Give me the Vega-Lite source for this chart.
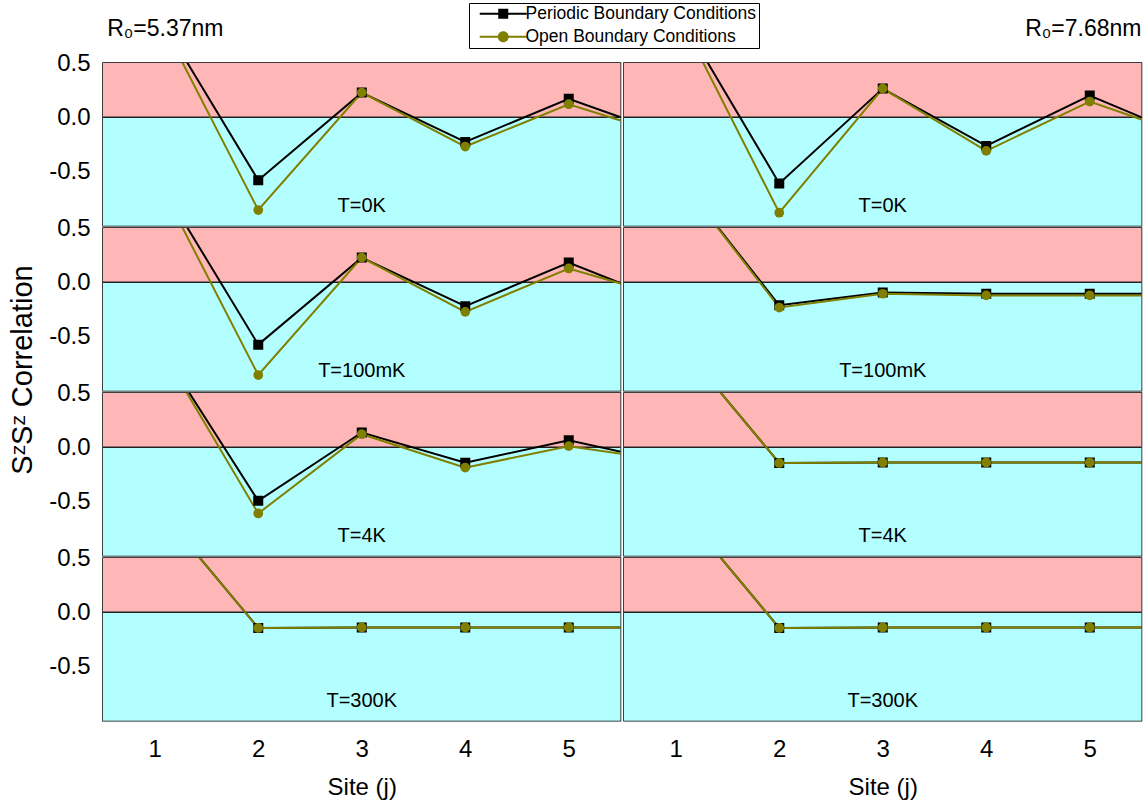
{
  "$schema": "https://vega.github.io/schema/vega-lite/v6.json",
  "background": "white",
  "padding": {"left": 8, "top": 2, "right": 5, "bottom": 5},
  "config": {
    "font": "Liberation Sans",
    "view": {"stroke": "#000000", "strokeWidth": 1.5},
    "axis": {"grid": false, "domain": false, "ticks": false, "labelFont": "Liberation Sans", "labelFontSize": 24, "labelColor": "#000000", "titleFont": "Liberation Sans", "titleFontSize": 24, "titleFontWeight": "normal", "titleColor": "#000000", "labelFlush": false}
  },
  "data": {"values": [
    {"R": "R₀=5.37nm", "T": "T=0K", "bc": "Periodic Boundary Conditions", "site": 1, "v": 1.0},
    {"R": "R₀=5.37nm", "T": "T=0K", "bc": "Periodic Boundary Conditions", "site": 2, "v": -0.58},
    {"R": "R₀=5.37nm", "T": "T=0K", "bc": "Periodic Boundary Conditions", "site": 3, "v": 0.227},
    {"R": "R₀=5.37nm", "T": "T=0K", "bc": "Periodic Boundary Conditions", "site": 4, "v": -0.227},
    {"R": "R₀=5.37nm", "T": "T=0K", "bc": "Periodic Boundary Conditions", "site": 5, "v": 0.17},
    {"R": "R₀=5.37nm", "T": "T=0K", "bc": "Periodic Boundary Conditions", "site": 6, "v": -0.17},
    {"R": "R₀=5.37nm", "T": "T=100mK", "bc": "Periodic Boundary Conditions", "site": 1, "v": 1.0},
    {"R": "R₀=5.37nm", "T": "T=100mK", "bc": "Periodic Boundary Conditions", "site": 2, "v": -0.575},
    {"R": "R₀=5.37nm", "T": "T=100mK", "bc": "Periodic Boundary Conditions", "site": 3, "v": 0.227},
    {"R": "R₀=5.37nm", "T": "T=100mK", "bc": "Periodic Boundary Conditions", "site": 4, "v": -0.221},
    {"R": "R₀=5.37nm", "T": "T=100mK", "bc": "Periodic Boundary Conditions", "site": 5, "v": 0.182},
    {"R": "R₀=5.37nm", "T": "T=100mK", "bc": "Periodic Boundary Conditions", "site": 6, "v": -0.2},
    {"R": "R₀=5.37nm", "T": "T=4K", "bc": "Periodic Boundary Conditions", "site": 1, "v": 1.0},
    {"R": "R₀=5.37nm", "T": "T=4K", "bc": "Periodic Boundary Conditions", "site": 2, "v": -0.494},
    {"R": "R₀=5.37nm", "T": "T=4K", "bc": "Periodic Boundary Conditions", "site": 3, "v": 0.136},
    {"R": "R₀=5.37nm", "T": "T=4K", "bc": "Periodic Boundary Conditions", "site": 4, "v": -0.142},
    {"R": "R₀=5.37nm", "T": "T=4K", "bc": "Periodic Boundary Conditions", "site": 5, "v": 0.064},
    {"R": "R₀=5.37nm", "T": "T=4K", "bc": "Periodic Boundary Conditions", "site": 6, "v": -0.144},
    {"R": "R₀=5.37nm", "T": "T=300K", "bc": "Periodic Boundary Conditions", "site": 1, "v": 1.0},
    {"R": "R₀=5.37nm", "T": "T=300K", "bc": "Periodic Boundary Conditions", "site": 2, "v": -0.145},
    {"R": "R₀=5.37nm", "T": "T=300K", "bc": "Periodic Boundary Conditions", "site": 3, "v": -0.14},
    {"R": "R₀=5.37nm", "T": "T=300K", "bc": "Periodic Boundary Conditions", "site": 4, "v": -0.14},
    {"R": "R₀=5.37nm", "T": "T=300K", "bc": "Periodic Boundary Conditions", "site": 5, "v": -0.14},
    {"R": "R₀=5.37nm", "T": "T=300K", "bc": "Periodic Boundary Conditions", "site": 6, "v": -0.14},
    {"R": "R₀=7.68nm", "T": "T=0K", "bc": "Periodic Boundary Conditions", "site": 1, "v": 1.0},
    {"R": "R₀=7.68nm", "T": "T=0K", "bc": "Periodic Boundary Conditions", "site": 2, "v": -0.61},
    {"R": "R₀=7.68nm", "T": "T=0K", "bc": "Periodic Boundary Conditions", "site": 3, "v": 0.264},
    {"R": "R₀=7.68nm", "T": "T=0K", "bc": "Periodic Boundary Conditions", "site": 4, "v": -0.264},
    {"R": "R₀=7.68nm", "T": "T=0K", "bc": "Periodic Boundary Conditions", "site": 5, "v": 0.2},
    {"R": "R₀=7.68nm", "T": "T=0K", "bc": "Periodic Boundary Conditions", "site": 6, "v": -0.2},
    {"R": "R₀=7.68nm", "T": "T=100mK", "bc": "Periodic Boundary Conditions", "site": 1, "v": 1.0},
    {"R": "R₀=7.68nm", "T": "T=100mK", "bc": "Periodic Boundary Conditions", "site": 2, "v": -0.212},
    {"R": "R₀=7.68nm", "T": "T=100mK", "bc": "Periodic Boundary Conditions", "site": 3, "v": -0.095},
    {"R": "R₀=7.68nm", "T": "T=100mK", "bc": "Periodic Boundary Conditions", "site": 4, "v": -0.105},
    {"R": "R₀=7.68nm", "T": "T=100mK", "bc": "Periodic Boundary Conditions", "site": 5, "v": -0.105},
    {"R": "R₀=7.68nm", "T": "T=100mK", "bc": "Periodic Boundary Conditions", "site": 6, "v": -0.105},
    {"R": "R₀=7.68nm", "T": "T=4K", "bc": "Periodic Boundary Conditions", "site": 1, "v": 1.0},
    {"R": "R₀=7.68nm", "T": "T=4K", "bc": "Periodic Boundary Conditions", "site": 2, "v": -0.145},
    {"R": "R₀=7.68nm", "T": "T=4K", "bc": "Periodic Boundary Conditions", "site": 3, "v": -0.14},
    {"R": "R₀=7.68nm", "T": "T=4K", "bc": "Periodic Boundary Conditions", "site": 4, "v": -0.14},
    {"R": "R₀=7.68nm", "T": "T=4K", "bc": "Periodic Boundary Conditions", "site": 5, "v": -0.14},
    {"R": "R₀=7.68nm", "T": "T=4K", "bc": "Periodic Boundary Conditions", "site": 6, "v": -0.14},
    {"R": "R₀=7.68nm", "T": "T=300K", "bc": "Periodic Boundary Conditions", "site": 1, "v": 1.0},
    {"R": "R₀=7.68nm", "T": "T=300K", "bc": "Periodic Boundary Conditions", "site": 2, "v": -0.145},
    {"R": "R₀=7.68nm", "T": "T=300K", "bc": "Periodic Boundary Conditions", "site": 3, "v": -0.14},
    {"R": "R₀=7.68nm", "T": "T=300K", "bc": "Periodic Boundary Conditions", "site": 4, "v": -0.14},
    {"R": "R₀=7.68nm", "T": "T=300K", "bc": "Periodic Boundary Conditions", "site": 5, "v": -0.14},
    {"R": "R₀=7.68nm", "T": "T=300K", "bc": "Periodic Boundary Conditions", "site": 6, "v": -0.14},
    {"R": "R₀=5.37nm", "T": "T=0K", "bc": "Open Boundary Conditions", "site": 1, "v": 1.0},
    {"R": "R₀=5.37nm", "T": "T=0K", "bc": "Open Boundary Conditions", "site": 2, "v": -0.855},
    {"R": "R₀=5.37nm", "T": "T=0K", "bc": "Open Boundary Conditions", "site": 3, "v": 0.227},
    {"R": "R₀=5.37nm", "T": "T=0K", "bc": "Open Boundary Conditions", "site": 4, "v": -0.27},
    {"R": "R₀=5.37nm", "T": "T=0K", "bc": "Open Boundary Conditions", "site": 5, "v": 0.12},
    {"R": "R₀=5.37nm", "T": "T=0K", "bc": "Open Boundary Conditions", "site": 6, "v": -0.18},
    {"R": "R₀=5.37nm", "T": "T=100mK", "bc": "Open Boundary Conditions", "site": 1, "v": 1.0},
    {"R": "R₀=5.37nm", "T": "T=100mK", "bc": "Open Boundary Conditions", "site": 2, "v": -0.855},
    {"R": "R₀=5.37nm", "T": "T=100mK", "bc": "Open Boundary Conditions", "site": 3, "v": 0.227},
    {"R": "R₀=5.37nm", "T": "T=100mK", "bc": "Open Boundary Conditions", "site": 4, "v": -0.273},
    {"R": "R₀=5.37nm", "T": "T=100mK", "bc": "Open Boundary Conditions", "site": 5, "v": 0.127},
    {"R": "R₀=5.37nm", "T": "T=100mK", "bc": "Open Boundary Conditions", "site": 6, "v": -0.15},
    {"R": "R₀=5.37nm", "T": "T=4K", "bc": "Open Boundary Conditions", "site": 1, "v": 1.0},
    {"R": "R₀=5.37nm", "T": "T=4K", "bc": "Open Boundary Conditions", "site": 2, "v": -0.61},
    {"R": "R₀=5.37nm", "T": "T=4K", "bc": "Open Boundary Conditions", "site": 3, "v": 0.12},
    {"R": "R₀=5.37nm", "T": "T=4K", "bc": "Open Boundary Conditions", "site": 4, "v": -0.188},
    {"R": "R₀=5.37nm", "T": "T=4K", "bc": "Open Boundary Conditions", "site": 5, "v": 0.01},
    {"R": "R₀=5.37nm", "T": "T=4K", "bc": "Open Boundary Conditions", "site": 6, "v": -0.13},
    {"R": "R₀=5.37nm", "T": "T=300K", "bc": "Open Boundary Conditions", "site": 1, "v": 1.0},
    {"R": "R₀=5.37nm", "T": "T=300K", "bc": "Open Boundary Conditions", "site": 2, "v": -0.145},
    {"R": "R₀=5.37nm", "T": "T=300K", "bc": "Open Boundary Conditions", "site": 3, "v": -0.14},
    {"R": "R₀=5.37nm", "T": "T=300K", "bc": "Open Boundary Conditions", "site": 4, "v": -0.14},
    {"R": "R₀=5.37nm", "T": "T=300K", "bc": "Open Boundary Conditions", "site": 5, "v": -0.14},
    {"R": "R₀=5.37nm", "T": "T=300K", "bc": "Open Boundary Conditions", "site": 6, "v": -0.14},
    {"R": "R₀=7.68nm", "T": "T=0K", "bc": "Open Boundary Conditions", "site": 1, "v": 1.0},
    {"R": "R₀=7.68nm", "T": "T=0K", "bc": "Open Boundary Conditions", "site": 2, "v": -0.88},
    {"R": "R₀=7.68nm", "T": "T=0K", "bc": "Open Boundary Conditions", "site": 3, "v": 0.264},
    {"R": "R₀=7.68nm", "T": "T=0K", "bc": "Open Boundary Conditions", "site": 4, "v": -0.31},
    {"R": "R₀=7.68nm", "T": "T=0K", "bc": "Open Boundary Conditions", "site": 5, "v": 0.145},
    {"R": "R₀=7.68nm", "T": "T=0K", "bc": "Open Boundary Conditions", "site": 6, "v": -0.185},
    {"R": "R₀=7.68nm", "T": "T=100mK", "bc": "Open Boundary Conditions", "site": 1, "v": 1.0},
    {"R": "R₀=7.68nm", "T": "T=100mK", "bc": "Open Boundary Conditions", "site": 2, "v": -0.233},
    {"R": "R₀=7.68nm", "T": "T=100mK", "bc": "Open Boundary Conditions", "site": 3, "v": -0.106},
    {"R": "R₀=7.68nm", "T": "T=100mK", "bc": "Open Boundary Conditions", "site": 4, "v": -0.121},
    {"R": "R₀=7.68nm", "T": "T=100mK", "bc": "Open Boundary Conditions", "site": 5, "v": -0.121},
    {"R": "R₀=7.68nm", "T": "T=100mK", "bc": "Open Boundary Conditions", "site": 6, "v": -0.121},
    {"R": "R₀=7.68nm", "T": "T=4K", "bc": "Open Boundary Conditions", "site": 1, "v": 1.0},
    {"R": "R₀=7.68nm", "T": "T=4K", "bc": "Open Boundary Conditions", "site": 2, "v": -0.145},
    {"R": "R₀=7.68nm", "T": "T=4K", "bc": "Open Boundary Conditions", "site": 3, "v": -0.14},
    {"R": "R₀=7.68nm", "T": "T=4K", "bc": "Open Boundary Conditions", "site": 4, "v": -0.14},
    {"R": "R₀=7.68nm", "T": "T=4K", "bc": "Open Boundary Conditions", "site": 5, "v": -0.14},
    {"R": "R₀=7.68nm", "T": "T=4K", "bc": "Open Boundary Conditions", "site": 6, "v": -0.14},
    {"R": "R₀=7.68nm", "T": "T=300K", "bc": "Open Boundary Conditions", "site": 1, "v": 1.0},
    {"R": "R₀=7.68nm", "T": "T=300K", "bc": "Open Boundary Conditions", "site": 2, "v": -0.145},
    {"R": "R₀=7.68nm", "T": "T=300K", "bc": "Open Boundary Conditions", "site": 3, "v": -0.14},
    {"R": "R₀=7.68nm", "T": "T=300K", "bc": "Open Boundary Conditions", "site": 4, "v": -0.14},
    {"R": "R₀=7.68nm", "T": "T=300K", "bc": "Open Boundary Conditions", "site": 5, "v": -0.14},
    {"R": "R₀=7.68nm", "T": "T=300K", "bc": "Open Boundary Conditions", "site": 6, "v": -0.14}
  ]},
  "facet": {
    "row": {"field": "T", "type": "nominal", "sort": ["T=0K", "T=100mK", "T=4K", "T=300K"], "title": "             SᶻSᶻ Correlation", "header": {"labels": false, "titleFont": "Liberation Sans", "titleFontSize": 29, "titleFontWeight": "normal", "titleColor": "#000000", "titlePadding": 0}},
    "column": {"field": "R", "type": "nominal", "sort": ["R₀=5.37nm", "R₀=7.68nm"], "header": null}
  },
  "spacing": 0,
  "spec": {
    "width": 517.5,
    "height": 162.75,
    "layer": [
      {
        "transform": [{"filter": "datum.site == 1 && datum.bc == 'Periodic Boundary Conditions'"}],
        "mark": {"type": "rect", "color": "#ffb6b6"},
        "encoding": {
          "x": {"datum": 0.5, "type": "quantitative", "scale": {"domain": [0.5, 5.5], "nice": false, "zero": false}, "axis": {"title": "Site (j)", "values": [1, 2, 3, 4, 5], "format": "d", "labelPadding": 15, "titlePadding": 14}},
          "x2": {"datum": 5.5},
          "y": {"datum": 0.5, "type": "quantitative", "scale": {"domain": [-1, 0.5], "nice": false, "zero": false}, "axis": {"title": null, "values": [0.5, 0, -0.5], "labelExpr": "datum.value == 0 ? '0.0' : (datum.value > 0 ? format(datum.value, '.1f') : '-' + format(-datum.value, '.1f'))", "labelPadding": 11}},
          "y2": {"datum": 0}
        }
      },
      {
        "transform": [{"filter": "datum.site == 1 && datum.bc == 'Periodic Boundary Conditions'"}],
        "mark": {"type": "rect", "color": "#b3ffff"},
        "encoding": {
          "x": {"datum": 0.5, "type": "quantitative"},
          "x2": {"datum": 5.5},
          "y": {"datum": 0, "type": "quantitative"},
          "y2": {"datum": -1}
        }
      },
      {
        "transform": [{"filter": "datum.site == 1 && datum.bc == 'Periodic Boundary Conditions'"}],
        "mark": {"type": "rule", "color": "#222222", "strokeWidth": 1.5},
        "encoding": {
          "y": {"datum": 0, "type": "quantitative"}
        }
      },
      {
        "transform": [{"filter": "datum.bc == 'Periodic Boundary Conditions'"}],
        "mark": {"type": "line", "clip": true, "strokeWidth": 2, "color": "#000000"},
        "encoding": {
          "x": {"field": "site", "type": "quantitative"},
          "y": {"field": "v", "type": "quantitative"}
        }
      },
      {
        "transform": [{"filter": "datum.bc == 'Open Boundary Conditions'"}],
        "mark": {"type": "line", "clip": true, "strokeWidth": 2, "color": "#808000"},
        "encoding": {
          "x": {"field": "site", "type": "quantitative"},
          "y": {"field": "v", "type": "quantitative"}
        }
      },
      {
        "transform": [{"filter": "datum.bc == 'Periodic Boundary Conditions'"}],
        "mark": {"type": "point", "clip": true, "filled": true, "opacity": 1, "shape": "square", "size": 100, "color": "#000000"},
        "encoding": {
          "x": {"field": "site", "type": "quantitative"},
          "y": {"field": "v", "type": "quantitative"}
        }
      },
      {
        "transform": [{"filter": "datum.bc == 'Open Boundary Conditions'"}],
        "mark": {"type": "point", "clip": true, "filled": true, "opacity": 1, "shape": "circle", "size": 95, "color": "#808000"},
        "encoding": {
          "x": {"field": "site", "type": "quantitative"},
          "y": {"field": "v", "type": "quantitative"}
        }
      },
      {
        "transform": [{"filter": "datum.site > 99"}],
        "mark": {"type": "point", "filled": true, "opacity": 1},
        "encoding": {
          "x": {"field": "site", "type": "quantitative"},
          "y": {"field": "v", "type": "quantitative"},
          "color": {"field": "bc", "type": "nominal", "scale": {"domain": ["Periodic Boundary Conditions", "Open Boundary Conditions"], "range": ["#000000", "#808000"]}, "legend": {"orient": "none", "legendX": 366, "legendY": -60, "title": null, "direction": "vertical", "strokeColor": "#000000", "fillColor": "#ffffff", "padding": 2, "labelFont": "Liberation Sans", "labelFontSize": 17.5, "labelColor": "#000000", "labelLimit": 500, "symbolSize": 100, "labelOffset": 37, "rowPadding": 4, "symbolOpacity": 1}},
          "shape": {"field": "bc", "type": "nominal", "scale": {"domain": ["Periodic Boundary Conditions", "Open Boundary Conditions"], "range": ["M0,-0.2H9.4V0.2H0ZM3.7,-1H5.7V1H3.7Z", "M0,-0.2H9.4V0.2H0ZM3.6,0A1.1,1.1,0,1,1,5.8,0A1.1,1.1,0,1,1,3.6,0Z"]}, "legend": {"orient": "none", "legendX": 366, "legendY": -60, "title": null, "direction": "vertical", "strokeColor": "#000000", "fillColor": "#ffffff", "padding": 2, "labelFont": "Liberation Sans", "labelFontSize": 17.5, "labelColor": "#000000", "labelLimit": 500, "symbolSize": 100, "labelOffset": 37, "rowPadding": 4, "symbolOpacity": 1}}
        }
      },
      {
        "transform": [{"filter": "datum.site == 1 && datum.bc == 'Periodic Boundary Conditions'"}],
        "mark": {"type": "text", "fontSize": 20, "font": "Liberation Sans", "color": "#000000", "align": "center", "baseline": "middle"},
        "encoding": {
          "x": {"datum": 3, "type": "quantitative"},
          "y": {"datum": -0.82, "type": "quantitative"},
          "text": {"field": "T"}
        }
      },
      {
        "transform": [{"filter": "datum.site == 1 && datum.bc == 'Periodic Boundary Conditions' && datum.T == 'T=0K' && datum.R == 'R₀=5.37nm'"}],
        "mark": {"type": "text", "fontSize": 23, "font": "Liberation Sans", "color": "#000000", "align": "left", "baseline": "middle"},
        "encoding": {
          "x": {"datum": 0.54, "type": "quantitative"},
          "y": {"datum": 0.81, "type": "quantitative"},
          "text": {"field": "R"}
        }
      },
      {
        "transform": [{"filter": "datum.site == 1 && datum.bc == 'Periodic Boundary Conditions' && datum.T == 'T=0K' && datum.R == 'R₀=7.68nm'"}],
        "mark": {"type": "text", "fontSize": 23, "font": "Liberation Sans", "color": "#000000", "align": "right", "baseline": "middle"},
        "encoding": {
          "x": {"datum": 5.5, "type": "quantitative"},
          "y": {"datum": 0.81, "type": "quantitative"},
          "text": {"field": "R"}
        }
      }
    ]
  }
}
